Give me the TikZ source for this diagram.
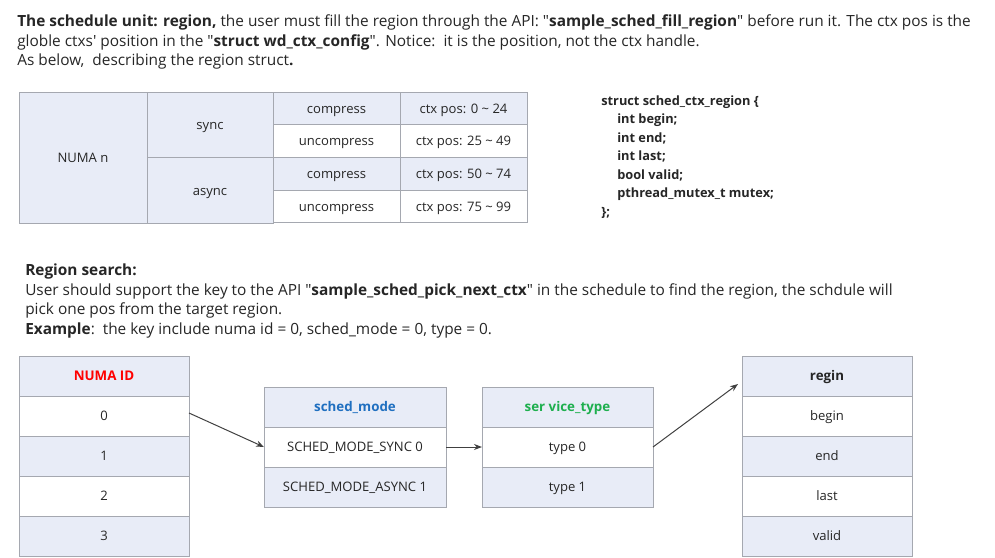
\documentclass[tikz,border=0pt]{standalone}
\usepackage{fontspec}
\setmainfont{Open Sans}
\usetikzlibrary{arrows.meta}
\definecolor{cellblue}{HTML}{E8ECF7}
\definecolor{bordc}{HTML}{A5A8B0}
\definecolor{txtc}{HTML}{262626}
\definecolor{hred}{HTML}{FF0000}
\definecolor{hblue}{HTML}{1F6FC0}
\definecolor{hgreen}{HTML}{1EAF4E}
\definecolor{arrc}{HTML}{404040}
\newcommand\dq{\textquotedbl}
\begin{document}
\begin{tikzpicture}[x=0.75pt,y=-0.75pt,
  body/.style={anchor=base west, inner sep=0pt, text=txtc, font=\fontsize{11.55pt}{13pt}\selectfont},
  code/.style={anchor=base west, inner sep=0pt, text=txtc, font=\fontsize{9.6pt}{11pt}\selectfont\bfseries},
  cell/.style={draw=bordc, line width=0.75pt, inner sep=0pt, outer sep=0pt, text=txtc, text height=0.72em, text depth=0em, font=\fontsize{9.8pt}{11pt}\selectfont},
  bcell/.style={cell, fill=cellblue},
  wcell/.style={cell, fill=white},
  tcol/.style={minimum width=127*0.75pt, minimum height=32.75*0.75pt},
  lcell/.style={minimum width=170*0.75pt, minimum height=40*0.75pt},
  hdr/.style={font=\fontsize{10pt}{11pt}\selectfont\bfseries},
  conn/.style={draw=arrc, line width=0.75pt, -{Stealth[length=8*0.75pt, width=6*0.75pt]}}
]
\useasboundingbox (0,0) rectangle (995,557);

% intro text
\node[body] (l1) at (17,26.5) {\textbf{The schedule unit: region,} the user must fill the region through the API: \dq\textbf{sample\_sched\_fill\_region}\dq\ before run it. The ctx pos is the};
\node[body] (l2) at (17,46) {globle ctxs\textquotesingle\ position in the \dq\textbf{struct wd\_ctx\_config}\dq. Notice:\ \ it is the position, not the ctx handle.};
\node[body] (l3) at (17,65.5) {As below,\ \ describing the region struct\textbf{.}};

% top table
\node[bcell, minimum width=128*0.75pt, minimum height=131*0.75pt] (numa) at (83,157.5) {NUMA n};
\node[bcell, minimum width=126*0.75pt, minimum height=65.5*0.75pt] (sync) at (210,124.75) {sync};
\node[bcell, minimum width=126*0.75pt, minimum height=65.5*0.75pt] (async) at (210,190.25) {async};
\node[bcell, tcol] (c1) at (336.5,108.4) {compress};
\node[wcell, tcol] (u1) at (336.5,141.1) {uncompress};
\node[bcell, tcol] (c2) at (336.5,173.9) {compress};
\node[wcell, tcol] (u2) at (336.5,206.6) {uncompress};
\node[bcell, tcol] (p1) at (463.5,108.4) {ctx pos: 0 \char"007E\ 24};
\node[wcell, tcol] (p2) at (463.5,141.1) {ctx pos: 25 \char"007E\ 49};
\node[bcell, tcol] (p3) at (463.5,173.9) {ctx pos: 50 \char"007E\ 74};
\node[wcell, tcol] (p4) at (463.5,206.6) {ctx pos: 75 \char"007E\ 99};

% struct code
\node[code] (s1) at (601,105) {struct sched\_ctx\_region \{};
\node[code] (s2) at (617,123) {int begin;};
\node[code] (s3) at (617,142) {int end;};
\node[code] (s4) at (617,160.5) {int last;};
\node[code] (s5) at (617,179) {bool valid;};
\node[code] (s6) at (617,197.5) {pthread\_mutex\_t mutex;};
\node[code] (s7) at (601,216) {\};};

% region search text
\node[body] (r1) at (25,275) {\textbf{Region search:}};
\node[body] (r2) at (25,295) {User should support the key to the API \dq\textbf{sample\_sched\_pick\_next\_ctx}\dq\ in the schedule to find the region, the schdule will};
\node[body] (r3) at (25,314.5) {pick one pos from the target region.};
\node[body] (r4) at (25,334) {\textbf{Example}:\ \ the key include numa id = 0, sched\_mode = 0, type = 0.};

% NUMA ID column
\node[bcell, lcell, hdr, text=hred] (nh) at (104,376) {NUMA ID};
\node[wcell, lcell] (n0) at (104,416) {0};
\node[bcell, lcell] (n1) at (104,456) {1};
\node[wcell, lcell] (n2) at (104,496) {2};
\node[bcell, lcell] (n3) at (104,536) {3};

% sched_mode
\node[bcell, lcell, minimum width=182*0.75pt, hdr, text=hblue] (smh) at (355,407) {sched\_mode};
\node[wcell, lcell, minimum width=182*0.75pt] (sm0) at (355,447) {SCHED\_MODE\_SYNC 0};
\node[bcell, lcell, minimum width=182*0.75pt] (sm1) at (355,487) {SCHED\_MODE\_ASYNC 1};

% service_type
\node[bcell, lcell, minimum width=171*0.75pt, hdr, text=hgreen] (sth) at (567.5,407) {ser vice\_type};
\node[wcell, lcell, minimum width=171*0.75pt] (st0) at (567.5,447) {type 0};
\node[bcell, lcell, minimum width=171*0.75pt] (st1) at (567.5,487) {type 1};

% regin
\node[bcell, lcell, hdr] (rh) at (827,376) {regin};
\node[wcell, lcell] (rb) at (827,416) {begin};
\node[bcell, lcell] (re) at (827,456) {end};
\node[wcell, lcell] (rl) at (827,496) {last};
\node[bcell, lcell] (rv) at (827,536) {valid};

% connectors
\draw[conn] ([yshift=2.25pt]n0.east) -- (sm0.west);
\draw[conn] (sm0.east) -- (st0.west);
\draw[conn] (st0.east) -- ([shift={(-4,8)}]rh.west);
\end{tikzpicture}
\end{document}
